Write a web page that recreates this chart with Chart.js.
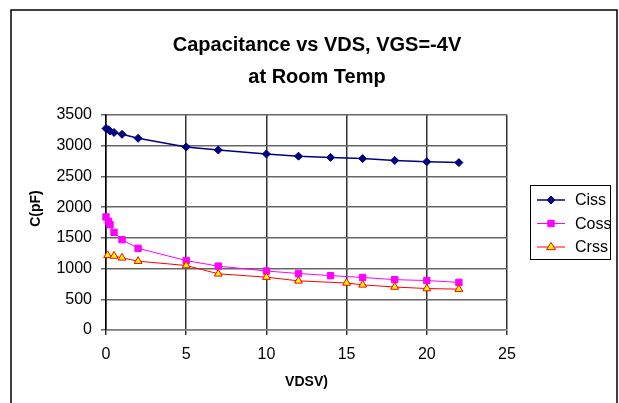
<!DOCTYPE html>
<html>
<head>
<meta charset="utf-8">
<script src="https://cdn.jsdelivr.net/npm/chart.js@4.4.1/dist/chart.umd.min.js"></script>
<style>
  html, body { margin: 0; padding: 0; background: #fff; }
  #wrap { width: 619px; height: 403px; }
</style>
</head>
<body>
<div id="wrap"><canvas id="capChart" width="619" height="403"></canvas></div>
<script>
// chart text
const titleLines = ['Capacitance vs VDS, VGS=-4V', 'at Room Temp'];
const xTitle = 'VDSV)';
const yTitle = 'C(pF)';
const seriesNames = ['Ciss', 'Coss', 'Crss'];

// VDS values (V) for Ciss / Coss
const vds = [0, 0.15, 0.25, 0.5, 1, 2, 5, 7, 10, 12, 14, 16, 18, 20, 22];
const ciss = [3280, 3260, 3240, 3215, 3185, 3120, 2980, 2930, 2865, 2830, 2810, 2790, 2760, 2740, 2725];
const coss = [1840, 1770, 1715, 1590, 1470, 1330, 1130, 1040, 960, 920, 885, 855, 820, 805, 775];

// Crss was measured at slightly different VDS points
const vdsCrss = [0.1, 0.5, 1, 2, 5, 7, 10, 12, 15, 16, 18, 20, 22];
const crss = [1215, 1205, 1175, 1120, 1050, 915, 860, 800, 765, 735, 700, 675, 665];

// axis ticks
const xTicks = [0, 5, 10, 15, 20, 25];
const yTicks = [0, 500, 1000, 1500, 2000, 2500, 3000, 3500];

const FONT = '"Liberation Sans", Arial, sans-serif';

const toPoints = (xs, ys) => xs.map((x, i) => ({ x: x, y: ys[i] }));

// frame, title, y axis title and legend box drawn Excel-style
const excelDecor = {
  id: 'excelDecor',
  beforeDraw(chart) {
    const ctx = chart.ctx;
    ctx.save();
    ctx.fillStyle = '#fff';
    ctx.fillRect(0, 0, chart.width, chart.height);
    ctx.restore();
  },
  afterDraw(chart) {
    const ctx = chart.ctx;
    const area = chart.chartArea;
    ctx.save();
    // outer frame
    ctx.strokeStyle = '#000';
    ctx.lineWidth = 1.5;
    ctx.strokeRect(11, 10, 606, 430);

    // title
    ctx.fillStyle = '#000';
    ctx.font = 'bold 20px ' + FONT;
    ctx.textAlign = 'center';
    ctx.textBaseline = 'middle';
    ctx.fillText(titleLines[0], 317, 45);
    ctx.fillText(titleLines[1], 317, 77);

    // y axis title
    ctx.save();
    ctx.translate(36, (area.top + area.bottom) / 2 - 14);
    ctx.rotate(-Math.PI / 2);
    ctx.font = 'bold 14px ' + FONT;
    ctx.fillText(yTitle, 0, 0);
    ctx.restore();

    // legend
    ctx.lineWidth = 1;
    ctx.strokeRect(530.5, 185.5, 80, 74);
    const rows = [200, 223.5, 247];
    chart.data.datasets.forEach((ds, i) => {
      const y = rows[i];
      ctx.strokeStyle = ds.borderColor;
      ctx.lineWidth = ds.borderWidth;
      ctx.beginPath();
      ctx.moveTo(537, y);
      ctx.lineTo(565, y);
      ctx.stroke();
      const cx = 551;
      const r = ds.pointRadius;
      ctx.fillStyle = ds.pointBackgroundColor;
      ctx.strokeStyle = ds.pointBorderColor;
      ctx.lineWidth = ds.pointBorderWidth;
      ctx.beginPath();
      if (ds.pointStyle === 'rectRot') {
        ctx.moveTo(cx, y - r); ctx.lineTo(cx + r, y); ctx.lineTo(cx, y + r); ctx.lineTo(cx - r, y);
      } else if (ds.pointStyle === 'rect') {
        const h = r * Math.SQRT1_2;
        ctx.rect(cx - h, y - h, 2 * h, 2 * h);
      } else {
        ctx.moveTo(cx, y - r); ctx.lineTo(cx + r, y + r * 0.6); ctx.lineTo(cx - r, y + r * 0.6);
      }
      ctx.closePath();
      ctx.fill();
      ctx.stroke();
      ctx.fillStyle = '#000';
      ctx.font = '16px ' + FONT;
      ctx.textAlign = 'left';
      ctx.fillText(ds.label, 575, y + 1);
    });
    ctx.restore();
  }
};

const ctx = document.getElementById('capChart').getContext('2d');
const capChart = new Chart(ctx, {
  type: 'scatter',
  data: {
    datasets: [
      {
        label: seriesNames[0],
        data: toPoints(vds, ciss),
        showLine: true,
        borderColor: '#000080',
        borderWidth: 1.5,
        pointStyle: 'rectRot',
        pointRadius: 4,
        pointBackgroundColor: '#000080',
        pointBorderColor: '#000080',
        pointBorderWidth: 1,
        clip: false,
        order: 2
      },
      {
        label: seriesNames[1],
        data: toPoints(vds, coss),
        showLine: true,
        borderColor: '#ff00ff',
        borderWidth: 1,
        pointStyle: 'rect',
        pointRadius: 4.5,
        pointBackgroundColor: '#ff00ff',
        pointBorderColor: '#ff00ff',
        pointBorderWidth: 1,
        clip: false,
        order: 1
      },
      {
        label: seriesNames[2],
        data: toPoints(vdsCrss, crss),
        showLine: true,
        borderColor: '#ff0000',
        borderWidth: 1,
        pointStyle: 'triangle',
        pointRadius: 4.5,
        pointBackgroundColor: '#ffff00',
        pointBorderColor: '#ff0000',
        pointBorderWidth: 1,
        clip: false,
        order: 0
      }
    ]
  },
  options: {
    responsive: false,
    animation: false,
    layout: { padding: { left: 0, right: 112, top: 115, bottom: 0 } },
    plugins: {
      legend: { display: false },
      title: { display: false },
      tooltip: { enabled: false }
    },
    scales: {
      x: {
        type: 'linear',
        min: xTicks[0],
        max: xTicks[xTicks.length - 1],
        afterBuildTicks: s => { s.ticks = xTicks.map(v => ({ value: v })); },
        ticks: { color: '#000', font: { size: 16, family: FONT }, padding: 10, maxRotation: 0, callback: v => String(v) },
        grid: { color: '#333', lineWidth: 1.5, tickLength: 5 },
        border: { color: '#808080', width: 1.5 },
        title: { display: true, text: xTitle, color: '#000', font: { size: 14, weight: 'bold', family: FONT }, padding: { top: 0, bottom: 12 } },
        afterFit: s => { s.height = 73; }
      },
      y: {
        type: 'linear',
        min: yTicks[0],
        max: yTicks[yTicks.length - 1],
        afterBuildTicks: s => { s.ticks = yTicks.map(v => ({ value: v })); },
        ticks: { color: '#000', font: { size: 16, family: FONT }, padding: 9, callback: v => String(v) },
        grid: { color: '#666', lineWidth: 1.5, tickLength: 5 },
        border: { color: '#000', width: 1.5 },
        afterFit: s => { s.width = 106; }
      }
    }
  },
  plugins: [excelDecor]
});
</script>
</body>
</html>
